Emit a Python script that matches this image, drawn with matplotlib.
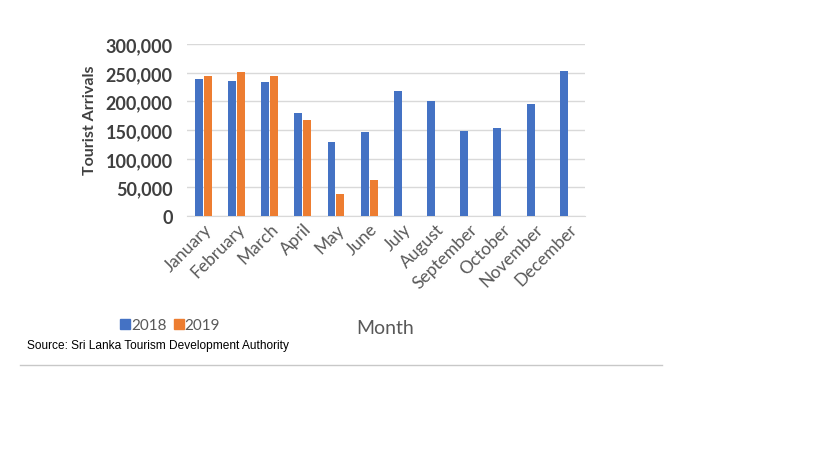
import matplotlib.pyplot as plt
import numpy as np
from matplotlib.lines import Line2D

# data
months = ['January', 'February', 'March', 'April', 'May', 'June', 'July',
          'August', 'September', 'October', 'November', 'December']
arrivals_2018 = [238924, 235618, 233382, 180429, 129466, 146828, 217829,
                 200359, 149087, 153123, 195582, 253169]
arrivals_2019 = [244239, 252033, 244328, 166975, 37802, 63072]
yticks = [0, 50000, 100000, 150000, 200000, 250000, 300000]

blue = '#4472C4'
orange = '#ED7D31'
grey = '#595959'

plt.rcParams['font.family'] = ['Lato', 'DejaVu Sans']

fig = plt.figure(figsize=(8.19, 4.60), dpi=100)
ax = fig.add_axes([0.228, 0.528, 0.486, 0.374])

x = np.arange(len(months))
w = 0.24
ax.bar(x - 0.135, arrivals_2018, w, color=blue, zorder=3)
ax.bar(x[:len(arrivals_2019)] + 0.135, arrivals_2019, w, color=orange, zorder=3)

ax.set_xlim(-0.5, 11.5)
ax.set_ylim(0, 300000)
ax.set_yticks(yticks)
ax.set_yticklabels([f'{v:,}' for v in yticks], fontsize=13, fontweight='bold', color='#404040')
ax.set_xticks(x)
ax.set_xticklabels(months, rotation=45, ha='right', rotation_mode='anchor',
                   fontsize=12.5, color=grey)
ax.tick_params(length=0, axis='both')
ax.tick_params(axis='y', pad=10)
ax.tick_params(axis='x', pad=3)
ax.grid(axis='y', color='#D9D9D9', linewidth=1, zorder=0)
for s in ['top', 'right', 'left']:
    ax.spines[s].set_visible(False)
ax.spines['bottom'].set_color('#D9D9D9')

ax.set_ylabel('Tourist Arrivals', fontsize=11.5, fontweight='bold', color='#404040')
ax.yaxis.set_label_coords(-0.225, 0.564)

fig.text(0.47, 0.285, 'Month', fontsize=14, color=grey, ha='center', va='center')

handles = [Line2D([], [], marker='s', linestyle='', color=blue, markersize=7),
           Line2D([], [], marker='s', linestyle='', color=orange, markersize=7)]
fig.legend(handles, ['2018', '2019'], loc='center left', bbox_to_anchor=(0.128, 0.291),
           ncol=2, frameon=False, fontsize=11, labelcolor=grey,
           handletextpad=0.0, columnspacing=0.4, handlelength=0.8)

fig.text(0.033, 0.247, 'Source: Sri Lanka Tourism Development Authority',
         fontsize=8.6, family=['Liberation Sans'], color='black', va='center')

fig.add_artist(Line2D([0.025, 0.808], [0.204, 0.204], color='#C8C8C8', linewidth=1))

fig.savefig('out.png', dpi=100, facecolor='white')
